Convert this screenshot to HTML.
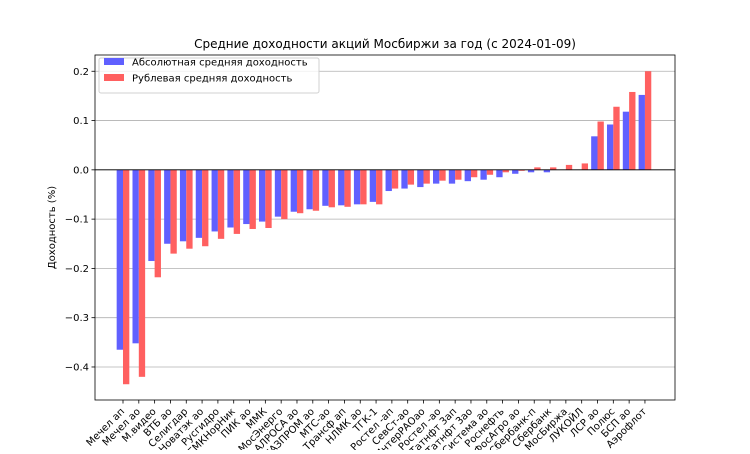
<!DOCTYPE html>
<html><head><meta charset="utf-8">
<style>
body{margin:0;background:#fff;font-family:"DejaVu Sans","Liberation Sans",sans-serif;}
svg text{font-family:"DejaVu Sans","Liberation Sans",sans-serif;}
</style></head>
<body>
<svg id="chart" width="750" height="450"></svg>
<script>
const categories=["Мечел ап","Мечел ао","М.видео","ВТБ ао","Селигдар","Новатэк ао","Русгидро","ГМКНорНик","ПИК ао","ММК","МосЭнерго","АЛРОСА ао","ГАЗПРОМ ао","МТС-ао","Трансф ап","НЛМК ао","ТГК-1","Ростел -ап","СевСт-ао","ИнтерРАОао","Ростел -ао","Татнфт 3ап","Татнфт 3ао","АФКСистема ао","Роснефть","ФосАгро ао","Сбербанк-п","Сбербанк","МосБиржа","ЛУКОЙЛ","ЛСР ао","Полюс","БСП ао","Аэрофлот"];
const absValues=[-0.365,-0.352,-0.185,-0.15,-0.145,-0.138,-0.125,-0.117,-0.11,-0.105,-0.095,-0.085,-0.08,-0.073,-0.072,-0.07,-0.065,-0.043,-0.038,-0.035,-0.028,-0.028,-0.023,-0.02,-0.015,-0.008,-0.005,-0.005,0.0,0.0,0.068,0.092,0.118,0.152];
const rubValues=[-0.435,-0.42,-0.218,-0.17,-0.16,-0.155,-0.14,-0.13,-0.12,-0.118,-0.1,-0.088,-0.083,-0.076,-0.075,-0.07,-0.07,-0.038,-0.03,-0.028,-0.022,-0.02,-0.015,-0.01,-0.005,-0.002,0.005,0.005,0.01,0.013,0.098,0.128,0.158,0.2];
const yTicks=[-0.4,-0.3,-0.2,-0.1,0.0,0.1,0.2];

const svg=document.getElementById('chart');
const NS='http://www.w3.org/2000/svg';
const L=95,R=675,T=55,B=400;
const xMin=-1.77,xMax=34.9,yMin=-0.467,yMax=0.233;
const xs=v=>L+(v-xMin)/(xMax-xMin)*(R-L);
const ys=v=>B-(v-yMin)/(yMax-yMin)*(B-T);
function mk(tag,attrs,parent){const e=document.createElementNS(NS,tag);for(const k in attrs)e.setAttribute(k,attrs[k]);(parent||svg).appendChild(e);return e;}

yTicks.forEach(t=>{
  const y=ys(t);
  const g=mk('line',{x1:L,x2:R,y1:y,y2:y,stroke:'#b0b0b0','stroke-width':0.8});
  
  
  mk('line',{x1:L-3.5,x2:L,y1:y,y2:y,stroke:'#000','stroke-width':0.8});
  const tx=mk('text',{x:L-6,y:y+3.5,'text-anchor':'end','font-size':10});
  tx.textContent=t.toFixed(1).replace('-','\u2212');
  
  
});
const w=0.4;
categories.forEach((c,i)=>{
  const a=absValues[i],r=rubValues[i];
  const b1=mk('rect',{x:xs(i-w),width:xs(i)-xs(i-w),y:Math.min(ys(a),ys(0)),height:Math.abs(ys(a)-ys(0)),fill:'#6060ff'});
  
  
  const b2=mk('rect',{x:xs(i),width:xs(i+w)-xs(i),y:Math.min(ys(r),ys(0)),height:Math.abs(ys(r)-ys(0)),fill:'#ff6060'});
  
  
  const x=xs(i);
  mk('line',{x1:x,x2:x,y1:B,y2:B+3.5,stroke:'#000','stroke-width':0.8});
  const tx=mk('text',{x:x+2,y:B+12,'text-anchor':'end','font-size':10,transform:`rotate(-45 ${x+2} ${B+12})`});
  tx.textContent=c;
  
  
});
mk('line',{x1:L,x2:R,y1:ys(0),y2:ys(0),stroke:'#000','stroke-width':0.8});
const f=mk('rect',{x:L,y:T,width:R-L,height:B-T,fill:'none',stroke:'#000','stroke-width':0.8});


const ti=mk('text',{x:(L+R)/2,y:48,'text-anchor':'middle','font-size':12});
ti.textContent='Средние доходности акций Мосбиржи за год (с 2024-01-09)';


const yl=mk('text',{x:55,y:(T+B)/2,'text-anchor':'middle','font-size':10,transform:`rotate(-90 55 ${(T+B)/2})`});
yl.textContent='Доходность (%)';


const lg=mk('g',{});


mk('rect',{x:99,y:58,width:220,height:35,rx:2,fill:'#fff','fill-opacity':0.8,stroke:'#d0d0d0'},lg);
[['#6060ff','Абсолютная средняя доходность',67],['#ff6060','Рублевая средняя доходность',83]].forEach(([col,txt,y])=>{
  mk('rect',{x:104,y:y-9,width:20,height:7,fill:col},lg);
  const t=mk('text',{x:132,y:y-1.5,'font-size':10},lg);
  t.textContent=txt;
  
  
});
</script>
</body></html>
